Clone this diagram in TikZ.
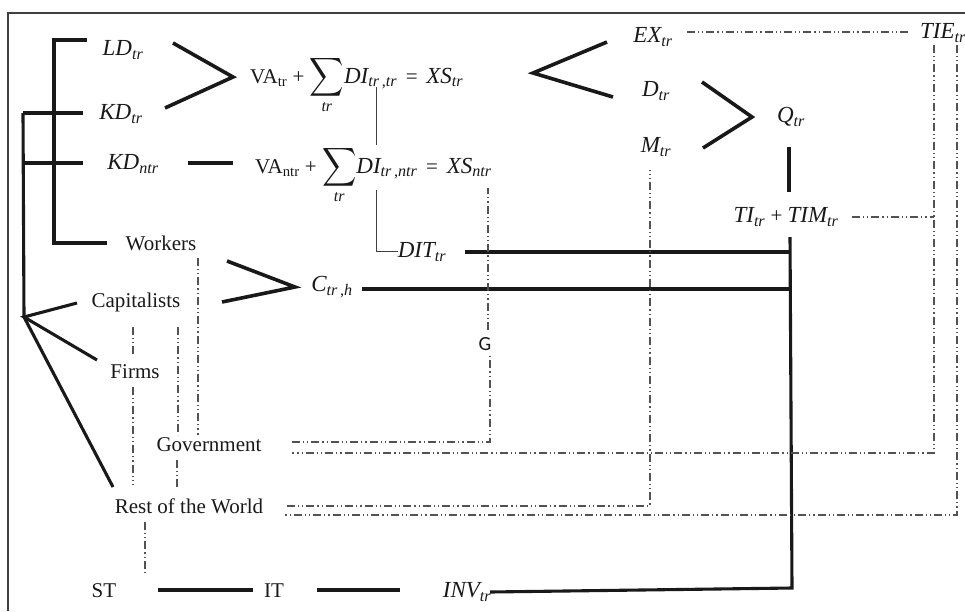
\documentclass[tikz,border=0pt]{standalone}
\usepackage{amsmath}
\usepackage{fontspec}
\setmainfont{Liberation Serif}
\newfontfamily\calib{Carlito}
\newcommand{\vv}[2]{{\fontsize{23}{26}\selectfont\itshape #1\textsubscript{#2}}}
\newcommand{\sm}{$\displaystyle\mathop{\vcenter{\hbox{\scalebox{1.15}[1.3]{$\displaystyle\sum$}}}}\limits_{\text{\fontsize{16}{18}\selectfont\itshape tr}}$}
\begin{document}
\begin{tikzpicture}[x=1pt,y=-1pt,
  txt/.style={inner sep=0pt, font=\fontsize{21}{24}\selectfont, text=black!90},
  thk/.style={line width=3.6pt, black!90},
  thkr/.style={line width=3.1pt, black!90},
  thn/.style={line width=0.9pt, black!75},
  dd/.style={line width=1.9pt, black!68, dash pattern=on 8pt off 3pt on 1.2pt off 3pt on 1.2pt off 3pt},
  frame/.style={line width=1.2pt, black!75}]
\useasboundingbox (0,0) rectangle (965,611);
% frame
\coordinate (f1) at (8,611); \coordinate (f2) at (8,13); \coordinate (f3) at (965,13);
\draw[frame] (f1) -- (f2) -- (f3);

% text nodes
\node[txt] (LD) at (123,50) {\vv{LD}{tr}};
\node[txt] (KD) at (121,114) {\vv{KD}{tr}};
\node[txt] (KDn) at (133,164) {\vv{KD}{ntr}};
\node[txt,anchor=base west] (E1) at (250,83) {VA\textsubscript{tr} + \sm\vv{DI}{tr\,,tr} \,=\, \vv{XS}{tr}};
\node[txt,anchor=base west] (E2) at (255,173) {VA\textsubscript{ntr} + \sm\vv{DI}{tr\,,ntr} \,=\, \vv{XS}{ntr}};
\node[txt] (EX) at (653,37) {\vv{EX}{tr}};
\node[txt] (D) at (656,91) {\vv{D}{tr}};
\node[txt] (M) at (656,147) {\vv{M}{tr}};
\node[txt] (Q) at (791,117) {\vv{Q}{tr}};
\node[txt] (TIE) at (943,33) {\vv{TIE}{tr}};
\node[txt] (TI) at (786,217) {\vv{TI}{tr} + \vv{TIM}{tr}};
\node[txt] (DIT) at (422,252) {\vv{DIT}{tr}};
\node[txt] (C) at (332,287) {\vv{C}{tr\,,h}};
\node[txt] (W) at (161,243) {Workers};
\node[txt] (Cap) at (136,302) {Capitalists};
\node[txt] (F) at (135,372) {Firms};
\node[txt] (Gov) at (209,445) {Government};
\node[txt] (RW) at (189,506) {Rest of the World};
\node[txt] (ST) at (104,591) {ST};
\node[txt] (IT) at (274,591) {IT};
\node[txt] (INV) at (467,592) {\vv{INV}{tr}};
\node[txt,font=\calib\fontsize{20}{22}\selectfont] (G) at (485,344) {G};

% left bracket
\coordinate (b0) at (87,40); \coordinate (b1) at (54,243); \coordinate (b2) at (107,243);
\draw[thkr] (b0) -| (b1) -- (b2);
\coordinate (k1a) at (23,113); \coordinate (k1b) at (83,113);
\coordinate (k2a) at (23,163); \coordinate (k2b) at (83,163);
\draw[thkr] (k1a) -- (k1b);
\draw[thkr] (k2a) -- (k2b);
\coordinate (fan) at (24,317);
\draw[thkr] (k1a) -- (fan);
\coordinate (fc) at (77,303); \coordinate (ff) at (97,360); \coordinate (fr) at (113,487);
\draw[thkr] (fc) -- (fan) -- (ff);
\draw[thkr] (fan) -- (fr);

% chevrons
\coordinate (c1a) at (173,43); \coordinate (c1v) at (233,77); \coordinate (c1b) at (165,108);
\draw[thk] (c1a) -- (c1v) -- (c1b);
\coordinate (c2a) at (227,261); \coordinate (c2v) at (295,287); \coordinate (c2b) at (222,302);
\draw[thk] (c2a) -- (c2v) -- (c2b);
\coordinate (c3a) at (607,42); \coordinate (c3v) at (533,73); \coordinate (c3b) at (613,97);
\draw[thk] (c3a) -- (c3v) -- (c3b);
\coordinate (c4a) at (702,82); \coordinate (c4v) at (752,117); \coordinate (c4b) at (703,148);
\draw[thk] (c4a) -- (c4v) -- (c4b);

% solid connectors
\coordinate (kd1) at (188,163); \coordinate (kd2) at (233,163);
\draw[thkr] (kd1) -- (kd2);
\coordinate (di1) at (376,87); \coordinate (di2) at (376,145);
\draw[thn] (di1) -- (di2);
\coordinate (di3) at (376,190); \coordinate (di4) at (376,251); \coordinate (di5) at (398,251);
\draw[thn] (di3) -- (di4) -- (di5);
\coordinate (dt1) at (465,252); \coordinate (dt2) at (790,252);
\draw[thkr] (dt1) -- (dt2);
\coordinate (ch1) at (362,289); \coordinate (ch2) at (790,289);
\draw[thkr] (ch1) -- (ch2);
\coordinate (q1) at (789,147); \coordinate (q2) at (789,192);
\draw[thkr] (q1) -- (q2);
\coordinate (t1) at (790,237); \coordinate (t2) at (792,588); \coordinate (t3) at (490,592);
\draw[thkr] (t1) -- (t2) -- (t3);
\coordinate (s1) at (158,590); \coordinate (s2) at (253,590);
\draw[thkr] (s1) -- (s2);
\coordinate (s3) at (317,590); \coordinate (s4) at (400,590);
\draw[thkr] (s3) -- (s4);

% dash-dot connectors
\coordinate (e1) at (687,32); \coordinate (e2) at (910,32);
\draw[dd] (e1) -- (e2);
\coordinate (ti1) at (852,217); \coordinate (ti2) at (934,217);
\draw[dd] (ti1) -- (ti2);
\coordinate (v1) at (934,45); \coordinate (v1b) at (934,453); \coordinate (g2) at (292,453);
\draw[dd] (v1) -- (v1b) -- (g2);
\coordinate (v2) at (957,45); \coordinate (v2b) at (957,515); \coordinate (r2) at (283,515);
\draw[dd] (v2) -- (v2b) -- (r2);
\coordinate (g1) at (292,442); \coordinate (g1b) at (490,442); \coordinate (gb) at (490,356);
\draw[dd] (g1) -- (g1b) -- (gb);
\coordinate (gt) at (488,330); \coordinate (xs) at (488,188);
\draw[dd] (gt) -- (xs);
\coordinate (r1) at (287,506); \coordinate (r1b) at (650,506); \coordinate (m1) at (650,170);
\draw[dd] (r1) -- (r1b) -- (m1);
\coordinate (l1) at (133,327); \coordinate (l2) at (133,357);
\coordinate (l3) at (133,387); \coordinate (l4) at (133,485);
\draw[dd] (l1) -- (l2);
\draw[dd] (l3) -- (l4);
\coordinate (l5) at (178,327); \coordinate (l6) at (178,435);
\draw[dd] (l5) -- (l6);
\coordinate (l7) at (177,460); \coordinate (l8) at (177,490);
\draw[dd] (l7) -- (l8);
\coordinate (l9) at (198,258); \coordinate (l10) at (198,435);
\draw[dd] (l9) -- (l10);
\coordinate (l11) at (145,522); \coordinate (l12) at (145,572);
\draw[dd] (l11) -- (l12);
\end{tikzpicture}
\end{document}
